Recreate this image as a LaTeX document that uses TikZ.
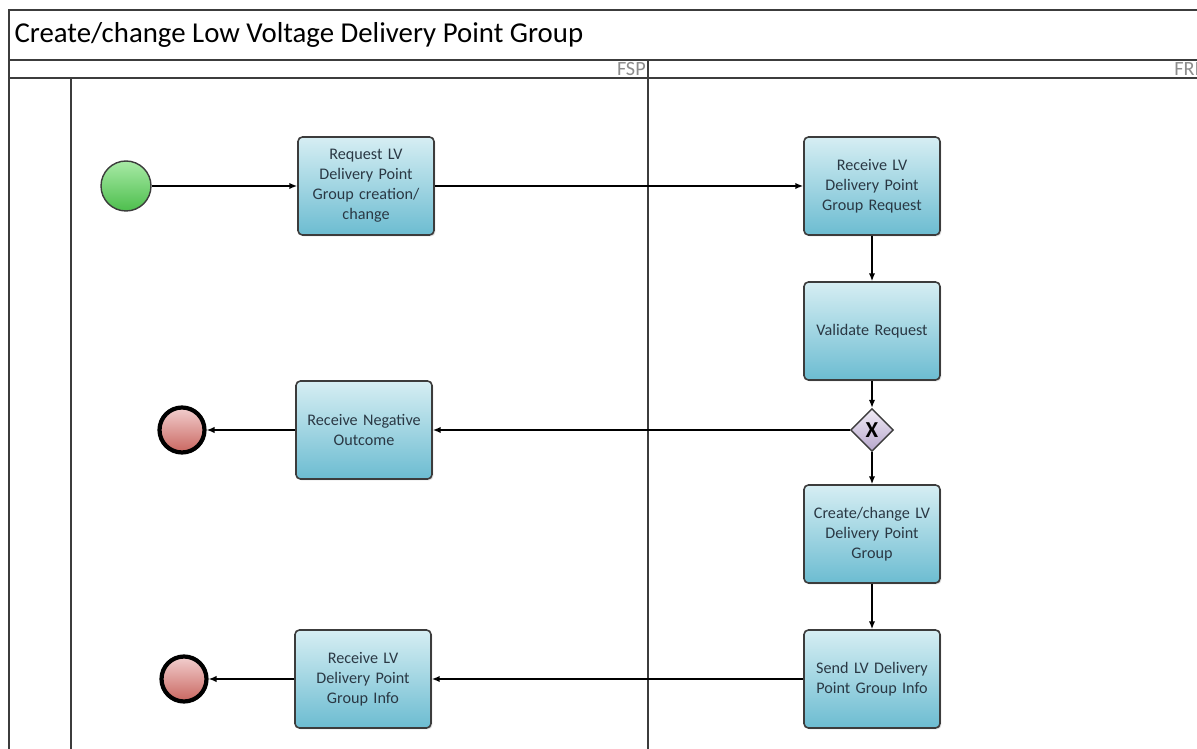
\documentclass[tikz,border=0pt]{standalone}
\usepackage{fontspec}
\setmainfont{Carlito}
\usetikzlibrary{positioning,shapes.geometric,arrows.meta,shadows}

\definecolor{bordo}{HTML}{3C3C3C}
\definecolor{attTop}{HTML}{D6EEF3}
\definecolor{attBot}{HTML}{6CBCD1}
\definecolor{verdeTop}{HTML}{A8EAA6}
\definecolor{verdeBot}{HTML}{4DBE4D}
\definecolor{rossoTop}{HTML}{F2CFCF}
\definecolor{rossoBot}{HTML}{C9665F}
\definecolor{gwTop}{HTML}{F1ECF6}
\definecolor{gwBot}{HTML}{B6A6CC}
\definecolor{testoAtt}{HTML}{2A3844}
\definecolor{testoLane}{HTML}{8C8C8C}

\begin{document}
\begin{tikzpicture}[x=0.02cm, y=-0.02cm,
			>={Latex[length=4.5pt,width=3.6pt]}, line width=0.6pt,
			cornice/.style={line width=1.1pt, bordo},
			attivita/.style={rectangle, rounded corners=2.5pt, draw=bordo,
				line width=0.9pt, top color=attTop, bottom color=attBot,
				minimum width=2.72cm, minimum height=1.96cm,
				text width=2.55cm, align=center, inner sep=1pt,
				font=\fontsize{9.2}{11.4}\selectfont, text=testoAtt,
				drop shadow={opacity=0.25, shadow xshift=0.8pt, shadow yshift=-0.8pt}},
			inizio/.style={circle, draw=bordo, line width=0.8pt,
				top color=verdeTop, bottom color=verdeBot,
				minimum size=1cm, inner sep=0pt},
			fine/.style={circle, draw=black, line width=2.4pt,
				top color=rossoTop, bottom color=rossoBot,
				minimum size=0.9cm, inner sep=0pt},
			porta/.style={diamond, draw=bordo, line width=0.8pt,
				top color=gwTop, bottom color=gwBot,
				minimum width=0.86cm, minimum height=0.86cm, inner sep=0pt,
				font=\bfseries\fontsize{13}{13}\selectfont},
			flusso/.style={->, line width=0.8pt, black},
			corsia/.style={font=\fontsize{11.5}{11.5}\selectfont, text=testoLane, inner sep=1pt}]
			
			\useasboundingbox (0,0) rectangle (1197,749);
			\clip (0,0) rectangle (1197,749);
			
			\def\xL{9}        %% bordo sinistro del pool
			\def\xI{71}       %% colonna etichetta pool
			\def\xM{648}      %% separazione FSP / FRI
			\def\yT{10}       %% bordo superiore
			\def\yH{60}       %% fine titolo
			\def\yC{78}       %% fine intestazione corsie
			
			%% --- cornice, titolo e corsie ---
			\draw[cornice] (\xL,760) -- (\xL,\yT) -- (1220,\yT);
			\draw[cornice] (\xL,\yH) -- (1220,\yH);
			\draw[cornice] (\xL,\yC) -- (1220,\yC);
			\draw[cornice] (\xI,\yC) -- (\xI,760);
			\draw[cornice] (\xM,\yH) -- (\xM,760);
			
			\node[anchor=west, inner sep=0pt, font=\fontsize{16.4}{16.4}\selectfont] (titolo)
				at (14,35) {Create/change Low Voltage Delivery Point Group};
			\node[corsia, anchor=east] (fsp) at (\xM,69) {FSP};
			\node[corsia, anchor=west] (fri) at (1172,69) {FRI};
			
			%% --- corsia FSP ---
			\node[inizio] (start) at (126,186) {};
			\node[attivita] (richiesta) at (366,186)
				{Request LV\\Delivery Point\\Group creation/\\change};
			\node[attivita] (negativo) at (364,430)
				{Receive Negative\\Outcome\\[8pt]};
			\node[attivita] (ricevInfo) at (363,679)
				{Receive LV\\Delivery Point\\Group Info};
			\node[fine] (fineNeg) at (182,430) {};
			\node[fine] (fineInfo) at (184,679) {};
			
			%% --- corsia FRI ---
			\node[attivita] (ricevi) at (872,186)
				{Receive LV\\Delivery Point\\Group Request};
			\node[attivita] (valida) at (872,331) {Validate Request};
			\node[porta] (gw) at (872,430) {X};
			\node[attivita] (crea) at (872,534)
				{Create/change LV\\Delivery Point\\Group};
			\node[attivita] (invia) at (872,679)
				{Send LV Delivery\\Point Group Info};
			
			%% --- flussi ---
			\draw[flusso] (start) -- (richiesta);
			\draw[flusso] (richiesta) -- (ricevi);
			\draw[flusso] (ricevi) -- (valida);
			\draw[flusso] (valida) -- (gw);
			\draw[flusso] (gw) -- (crea);
			\draw[flusso] (gw) -- (negativo);
			\draw[flusso] (negativo) -- (fineNeg);
			\draw[flusso] (crea) -- (invia);
			\draw[flusso] (invia) -- (ricevInfo);
			\draw[flusso] (ricevInfo) -- (fineInfo);
			
		\end{tikzpicture}
\end{document}
